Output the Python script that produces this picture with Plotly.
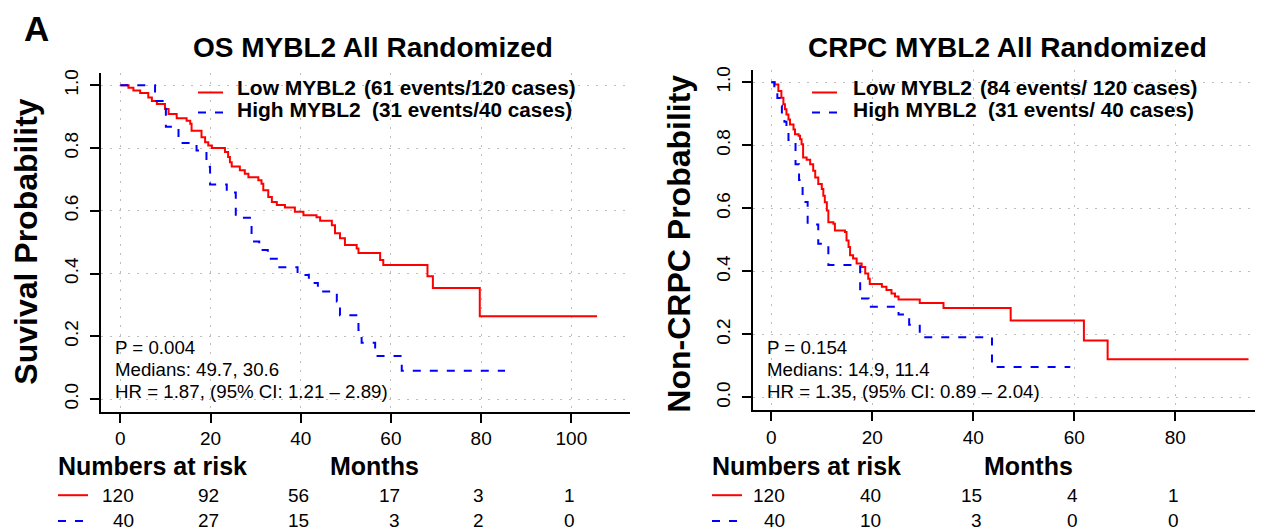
import plotly.graph_objects as go

# ---------------- data ----------------
months_ticks_os = [0, 20, 40, 60, 80, 100]
months_ticks_crpc = [0, 20, 40, 60, 80]
surv_ticks = [0.0, 0.2, 0.4, 0.6, 0.8, 1.0]
surv_tick_labels = ["0.0", "0.2", "0.4", "0.6", "0.8", "1.0"]

os_low_t = [0, 1.8, 2.9, 4.4, 6.2, 7.0, 8.1, 9.9, 10.7, 12.5, 14.7, 15.5, 15.8, 18.0, 18.8,
            19.5, 20.3, 23.2, 23.9, 24.3, 24.7, 26.5, 27.6, 28.4, 30.6, 31.3, 31.7, 32.8,
            33.6, 34.7, 36.5, 38.7, 40.6, 43.5, 44.3, 46.9, 47.6, 48.7, 49.8, 52.4, 52.8,
            57.6, 58.3, 68.1, 69.3, 79.7, 105.7]
os_low_s = [1.0, 0.992, 0.983, 0.975, 0.961, 0.950, 0.940, 0.924, 0.908, 0.895, 0.887, 0.877,
            0.855, 0.834, 0.818, 0.808, 0.800, 0.787, 0.771, 0.755, 0.741, 0.729, 0.718, 0.707,
            0.697, 0.686, 0.665, 0.644, 0.628, 0.618, 0.610, 0.597, 0.586, 0.579, 0.568, 0.554,
            0.528, 0.512, 0.491, 0.480, 0.465, 0.443, 0.427, 0.391, 0.354, 0.264, 0.264]

os_high_t = [0, 7.7, 10.1, 12.9, 16.9, 19.1, 19.9, 23.6, 25.6, 29.1, 30.8, 32.7, 35.0, 39.3,
             41.8, 43.8, 48.0, 48.7, 52.8, 53.5, 56.5, 62.4, 85.3]
os_high_s = [1.0, 0.95, 0.868, 0.816, 0.792, 0.74, 0.684, 0.658, 0.578, 0.502, 0.475, 0.447,
             0.420, 0.395, 0.370, 0.343, 0.311, 0.267, 0.22, 0.179, 0.137, 0.090, 0.090]

crpc_low_t = [0, 0.7, 1.4, 2.0, 2.4, 2.7, 3.0, 3.4, 3.7, 4.4, 4.7, 5.4, 5.7, 6.0, 6.3, 7.0,
              7.7, 8.3, 8.7, 9.3, 10.0, 10.3, 10.6, 11.0, 11.3, 12.3, 12.6, 14.6, 14.9, 15.3,
              15.6, 16.2, 16.9, 17.9, 18.6, 19.2, 19.5, 21.9, 22.8, 23.8, 24.5, 25.2, 29.4,
              34.1, 47.4, 61.9, 66.6, 94.5]
crpc_low_s = [1.0, 0.993, 0.972, 0.951, 0.930, 0.914, 0.898, 0.882, 0.866, 0.850, 0.835,
              0.830, 0.819, 0.803, 0.761, 0.754, 0.740, 0.719, 0.698, 0.677, 0.661, 0.640,
              0.619, 0.593, 0.556, 0.551, 0.530, 0.525, 0.498, 0.477, 0.451, 0.441, 0.425,
              0.414, 0.393, 0.377, 0.360, 0.351, 0.341, 0.330, 0.320, 0.311, 0.300, 0.284,
              0.244, 0.181, 0.121, 0.121]

crpc_high_t = [0, 0.6, 1.2, 1.7, 2.1, 2.6, 3.0, 3.4, 4.8, 5.5, 6.2, 7.2, 9.3, 11.3, 17.6,
               19.3, 25.2, 27.3, 29.4, 43.7, 59.2]
crpc_high_s = [1.0, 0.975, 0.95, 0.925, 0.90, 0.875, 0.85, 0.817, 0.74, 0.69, 0.62, 0.549,
               0.488, 0.42, 0.314, 0.288, 0.263, 0.231, 0.191, 0.097, 0.097]

os_risk_low = [120, 92, 56, 17, 3, 1]
os_risk_high = [40, 27, 15, 3, 2, 0]
crpc_risk_low = [120, 40, 15, 4, 1]
crpc_risk_high = [40, 10, 3, 0, 0]

titles = ["OS MYBL2 All Randomized", "CRPC MYBL2 All Randomized"]
ylabels = ["Suvival Probability", "Non-CRPC Probability"]
group_names = ["Low MYBL2", "High MYBL2"]
os_counts = ["(61 events/120 cases)", "(31 events/40 cases)"]
crpc_counts = ["(84 events/ 120 cases)", "(31 events/ 40 cases)"]
os_stats = ["P = 0.004", "Medians: 49.7, 30.6", "HR = 1.87, (95% CI: 1.21 \u2013 2.89)"]
crpc_stats = ["P = 0.154", "Medians: 14.9, 11.4", "HR = 1.35, (95% CI: 0.89 \u2013 2.04)"]

# ---------------- styling ----------------
W, H = 1265, 531
FONT = "Liberation Sans, Arial, Helvetica, sans-serif"
RED = "#ff0000"
BLUE = "#0000ff"
DASH = "8px,9px"


def px(x):
    return x / W


def py(y):
    return 1 - y / H


fig = go.Figure()

# curves
fig.add_trace(go.Scatter(x=os_low_t, y=os_low_s, mode="lines", line_shape="hv",
                         line=dict(color=RED, width=2), xaxis="x", yaxis="y", showlegend=False))
fig.add_trace(go.Scatter(x=os_high_t, y=os_high_s, mode="lines", line_shape="hv",
                         line=dict(color=BLUE, width=2, dash=DASH), xaxis="x", yaxis="y",
                         showlegend=False))
fig.add_trace(go.Scatter(x=crpc_low_t, y=crpc_low_s, mode="lines", line_shape="hv",
                         line=dict(color=RED, width=2), xaxis="x2", yaxis="y2", showlegend=False))
fig.add_trace(go.Scatter(x=crpc_high_t, y=crpc_high_s, mode="lines", line_shape="hv",
                         line=dict(color=BLUE, width=2, dash=DASH), xaxis="x2", yaxis="y2",
                         showlegend=False))

axis_common = dict(showline=True, linecolor="black", linewidth=2, mirror=False,
                   ticks="outside", ticklen=9, tickwidth=1.5, tickcolor="black",
                   showgrid=True, gridcolor="#bdbdbd", gridwidth=1.3, griddash="2px,7px",
                   zeroline=False, tickfont=dict(family=FONT, size=19, color="black"))

fig.update_layout(
    width=W, height=H,
    margin=dict(l=0, r=0, t=0, b=0),
    paper_bgcolor="white", plot_bgcolor="white",
    xaxis=dict(domain=[px(100.7), px(630.2)], range=[-4.35, 113.05], anchor="y",
               tickmode="array", tickvals=months_ticks_os, **axis_common),
    yaxis=dict(domain=[py(410.9), py(70.1)], range=[-0.04, 1.04], anchor="x",
               tickmode="array", tickvals=surv_ticks, ticktext=surv_tick_labels,
               tickangle=-90, ticklabelstandoff=4, **axis_common),
    xaxis2=dict(domain=[px(752.7), px(1255)], range=[-3.68, 95.78], anchor="y2",
                tickmode="array", tickvals=months_ticks_crpc, **axis_common),
    yaxis2=dict(domain=[py(409.4), py(67)], range=[-0.04, 1.04], anchor="x2",
                tickmode="array", tickvals=surv_ticks, ticktext=surv_tick_labels,
                tickangle=-90, ticklabelstandoff=4, **axis_common),
)

ann = []
shapes = []
TEXT_DY = -3  # annotation boxes sit slightly low relative to cap centre


def text(x, y, s, size, bold=False, xanchor="left", angle=0, xref="paper", xshift=0, dy=TEXT_DY):
    ann.append(dict(x=x, y=py(y + dy), xref=xref, yref="paper",
                    text=("<b>%s</b>" % s) if bold else s,
                    showarrow=False, xanchor=xanchor, yanchor="middle", textangle=angle,
                    xshift=xshift,
                    font=dict(family=FONT, size=size, color="black")))


def keyline(x0, x1, y, color, dash=None):
    shapes.append(dict(type="line", xref="paper", yref="paper", x0=px(x0), x1=px(x1),
                       y0=py(y), y1=py(y), line=dict(color=color, width=2,
                                                     dash=dash if dash else "solid")))


# panel letter
text(px(36), 29, "A", 35, bold=True, xanchor="center")

# titles
text(px(373), 48, titles[0], 28, bold=True, xanchor="center")
text(px(1008), 48, titles[1], 28, bold=True, xanchor="center")

# y labels
text(px(26), 240, ylabels[0], 32, bold=True, xanchor="center", angle=-90, dy=0)
text(px(679), 242, ylabels[1], 32, bold=True, xanchor="center", angle=-90, dy=0)

# legends
for lx0, lx1, tx in [(198, 223, 235), (812, 837, 851)]:
    keyline(lx0, lx1, 90, RED)
    keyline(lx0, lx1, 110, BLUE, DASH)
    text(px(tx), 88, group_names[0], 21, bold=True)
    text(px(tx), 110, group_names[1], 21, bold=True)
os_count_x = [362, 370]
crpc_count_x = [978, 986]
text(px(os_count_x[0]), 88, os_counts[0], 20.7, bold=True)
text(px(os_count_x[1]), 110, os_counts[1], 20.7, bold=True)
text(px(crpc_count_x[0]), 88, crpc_counts[0], 20.7, bold=True)
text(px(crpc_count_x[1]), 110, crpc_counts[1], 20.7, bold=True)

# stats text
for i, yy in enumerate([347, 369.5, 391.5]):
    text(px(113), yy, os_stats[i], 18.7, dy=-1)
    text(px(765), yy, crpc_stats[i], 18.7, dy=-1)

# numbers at risk header
text(px(56), 466, "Numbers at risk", 25, bold=True, dy=0)
text(px(374), 466, "Months", 25, bold=True, xanchor="center", dy=0)
text(px(710), 466, "Numbers at risk", 25, bold=True, dy=0)
text(px(1028), 466, "Months", 25, bold=True, xanchor="center", dy=0)

# risk key lines
keyline(58, 88, 495, RED)
keyline(58, 88, 521, BLUE, DASH)
keyline(712, 742, 495, RED)
keyline(712, 742, 521, BLUE, DASH)

# risk numbers (right-aligned columns, centred on tick)
DIGIT_HALF = 5.3
for ticks, low, high, xr in [(months_ticks_os, os_risk_low, os_risk_high, "x"),
                             (months_ticks_crpc, crpc_risk_low, crpc_risk_high, "x2")]:
    for t, a, b in zip(ticks, low, high):
        w = max(len(str(a)), len(str(b)))
        text(t, 495, str(a), 19, xanchor="right", xref=xr, xshift=w * DIGIT_HALF, dy=0)
        text(t, 520, str(b), 19, xanchor="right", xref=xr, xshift=w * DIGIT_HALF, dy=0)

fig.update_layout(annotations=ann, shapes=shapes)
fig.write_html("out.html", config={"displayModeBar": False},
               post_script="document.body.style.margin='0';")
